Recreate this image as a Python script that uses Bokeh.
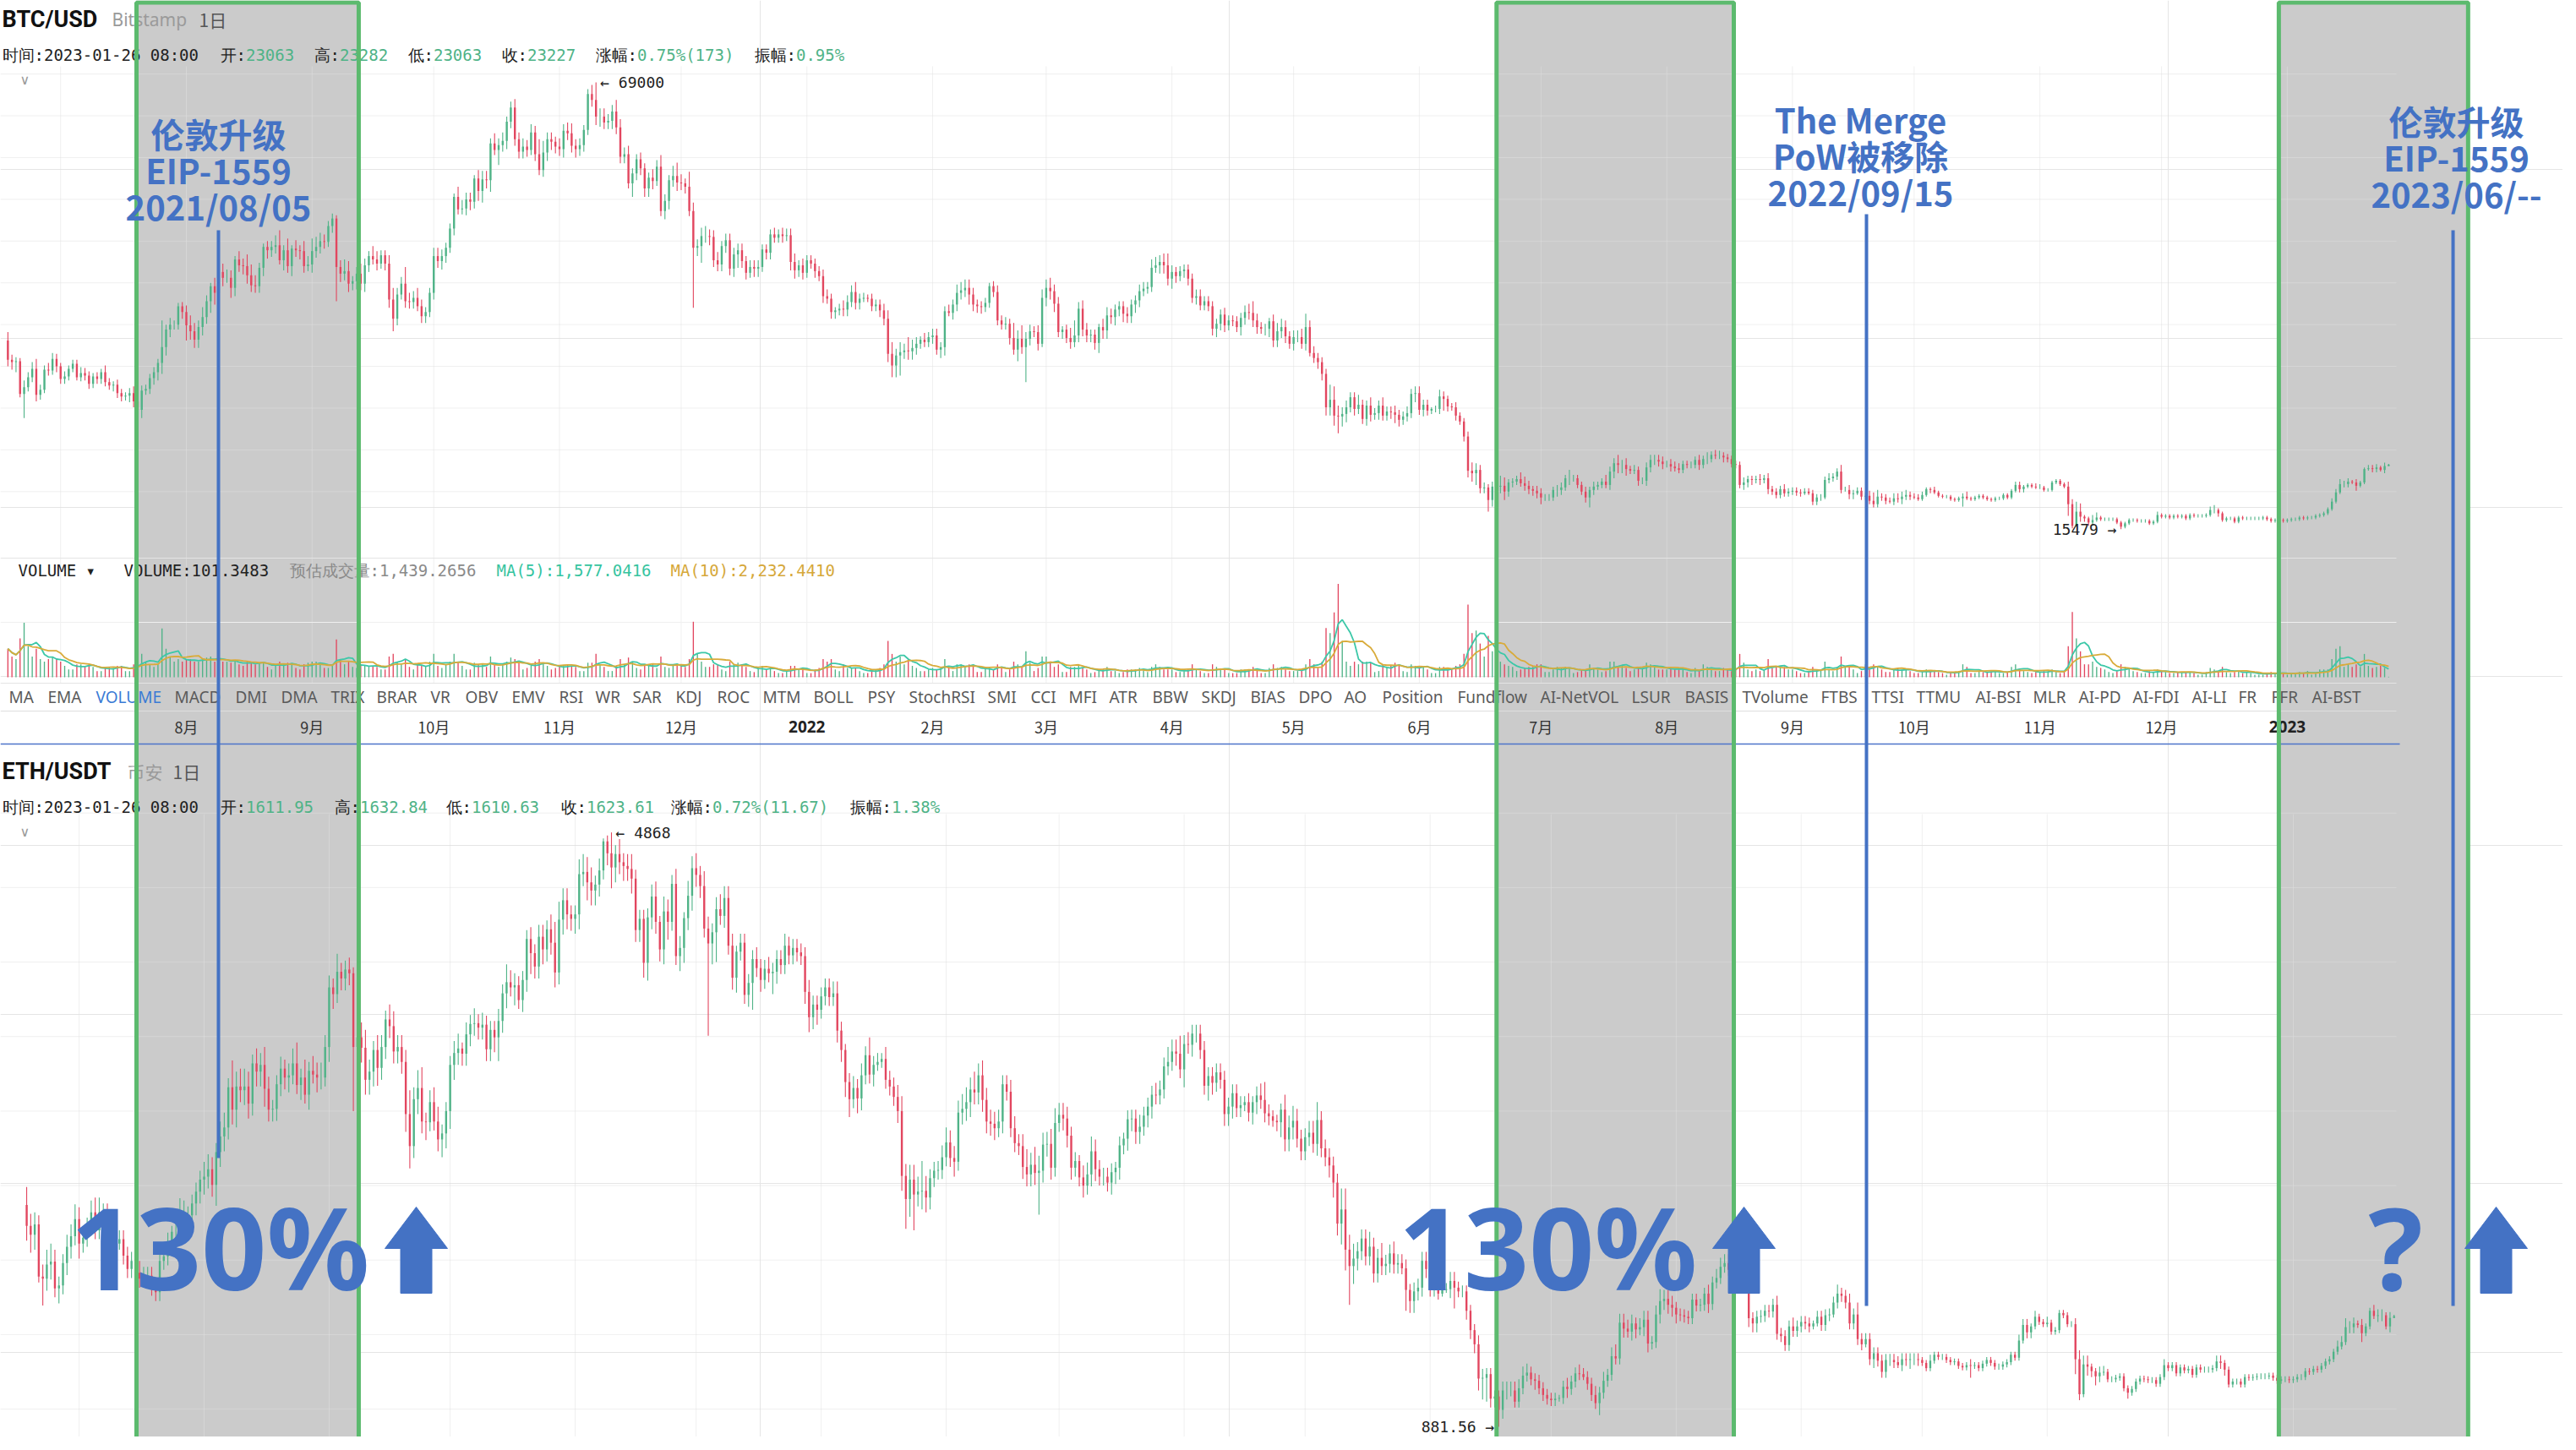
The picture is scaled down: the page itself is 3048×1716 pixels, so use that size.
import numpy as np
import pandas as pd
from bokeh.plotting import figure
from bokeh.models import Range1d, ColumnDataSource
from bokeh.embed import file_html
from bokeh.resources import INLINE
from bokeh.core.properties import value

# ------------------------------------------------------------------ data
start_date = "2021-06-18"   # first daily candle

btc_prev_close = 38.1       # BTC/USD close of 2021-06-17, in $k
btc_close = [  # $k, daily closes
    35.8,35.5,35.6,31.7,32.5,33.7,34.7,31.6,32.2,34.6,34.5,35.9,35.0,
    33.5,33.8,34.7,35.3,33.7,34.2,33.9,32.9,33.8,33.5,34.3,33.1,32.7,32.8,31.8,31.4,31.5,31.8,30.8,29.8,32.1,32.3,33.6,34.3,35.4,37.3,39.4,40.0,40.0,42.2,41.5,
    39.9,39.2,38.2,39.7,40.9,42.8,44.6,43.8,46.3,45.6,45.6,44.4,47.8,47.1,47.0,45.9,44.7,44.6,46.8,49.3,48.9,49.3,49.5,47.7,48.9,47.0,49.1,48.9,48.8,47.0,47.2,
    48.8,49.3,50.0,49.9,51.8,52.7,46.9,46.1,46.4,44.9,45.2,46.1,44.9,47.1,48.2,47.8,47.3,48.3,47.3,43.0,40.7,43.6,44.9,42.8,42.7,43.2,42.2,41.0,41.5,43.8,
    48.2,47.6,48.2,49.2,51.5,55.3,53.8,53.9,55.0,54.7,57.5,56.0,57.4,57.3,61.7,60.9,61.5,62.0,64.3,66.0,62.2,60.7,61.3,60.9,63.0,60.4,58.5,60.6,62.2,61.9,61.3,
    61.0,63.2,62.9,61.4,61.0,61.5,63.3,67.6,66.9,64.9,64.9,64.2,64.4,65.5,63.6,60.1,60.4,56.9,58.1,59.8,58.7,56.3,57.6,57.2,58.9,53.6,54.8,57.3,57.8,57.0,
    56.9,56.5,53.6,49.2,49.4,50.6,50.6,50.5,47.7,47.2,49.4,50.1,46.7,48.4,48.9,47.6,46.2,46.9,46.7,46.9,49.0,48.6,50.8,50.4,50.8,50.6,50.7,47.5,46.5,47.1,46.2,
    47.7,47.3,46.4,45.8,43.4,43.1,41.5,41.7,41.9,41.8,42.7,43.9,42.6,43.1,43.2,43.1,42.2,42.4,41.7,40.7,36.5,35.1,36.3,36.7,36.9,36.8,37.2,37.7,38.2,37.9,38.5,
    38.7,37.0,37.3,41.6,41.4,42.4,43.8,44.1,44.4,43.6,42.4,42.2,42.1,42.6,44.6,43.9,40.5,40.0,40.1,38.4,37.0,38.3,37.3,38.3,39.2,39.1,37.7,43.2,
    44.4,44.0,42.5,39.1,39.4,38.4,37.9,38.7,41.9,39.4,38.7,38.8,37.8,39.7,39.3,41.1,40.9,41.8,42.2,41.3,41.0,42.4,42.9,44.0,44.3,44.5,46.8,47.1,47.5,47.1,45.5,
    46.3,45.8,46.4,46.6,45.5,43.2,43.4,42.3,42.8,42.2,39.5,40.1,41.2,39.9,40.5,40.4,39.7,40.8,41.5,41.4,40.5,39.7,39.5,39.5,40.4,38.1,39.2,39.7,38.6,37.7,
    38.5,38.5,37.7,39.7,36.6,36.0,35.5,34.1,30.1,31.0,29.1,29.0,29.3,30.1,31.3,29.9,30.4,28.7,30.3,29.2,29.4,30.3,29.1,29.6,29.5,29.2,28.6,29.0,29.4,31.7,31.8,
    29.8,30.4,29.7,29.9,29.9,31.4,31.1,30.2,30.1,29.1,28.4,26.6,22.5,22.2,22.6,20.4,20.5,19.0,20.6,20.6,20.7,20.0,21.1,21.2,21.5,21.0,20.7,20.3,20.1,19.8,
    19.3,19.3,19.3,20.2,20.2,20.5,21.6,21.6,21.6,20.8,20.0,19.3,20.2,20.6,20.8,21.2,20.8,22.4,23.4,23.2,23.2,22.7,22.5,22.6,21.3,21.3,22.9,23.8,23.8,23.6,23.3,
    23.3,23.0,22.8,22.6,23.3,23.2,23.2,23.8,23.2,23.9,23.9,24.4,24.3,24.3,24.1,23.9,23.3,23.2,20.8,21.1,21.5,21.4,21.5,21.4,21.6,20.3,20.0,19.6,20.3,19.8,20.0,
    20.1,19.9,19.8,20.0,19.8,18.8,19.3,19.3,21.4,21.6,21.8,22.4,20.2,20.2,19.7,19.8,20.1,19.4,19.5,18.9,18.5,19.4,19.3,18.9,18.8,19.2,19.1,19.4,19.6,19.4,
    19.3,19.1,19.6,20.3,20.2,19.9,19.5,19.4,19.4,19.1,19.0,19.2,19.4,19.2,19.1,19.3,19.5,19.3,19.1,19.0,19.2,19.2,19.6,19.3,20.1,20.8,20.3,20.6,20.8,20.6,20.5,
    20.5,20.2,20.2,21.1,21.3,20.9,20.6,18.5,15.9,17.6,17.0,16.8,16.3,16.6,16.9,16.7,16.7,16.7,16.7,16.3,15.8,16.2,16.6,16.6,16.5,16.5,16.5,16.2,16.4,17.2,
    17.0,17.1,16.9,17.1,17.0,17.1,16.8,17.2,17.1,17.1,17.1,17.2,17.8,17.8,17.4,16.6,16.8,16.8,16.4,16.9,16.8,16.8,16.8,16.8,16.8,16.9,16.7,16.5,16.6,16.6,16.5,
    16.6,16.7,16.7,16.9,16.8,16.9,16.9,17.1,17.2,17.4,17.9,18.8,19.9,20.9,20.9,21.2,21.1,20.7,21.1,22.7,22.8,22.7,22.9,22.6,23.06,23.23,
]
btc_wick_up = [  # upper wick above the body, in $100
    10,6,5,4,8,6,8,12,6,5,8,7,6,
    4,6,4,5,5,7,6,5,4,5,4,8,5,4,6,5,4,6,8,6,6,5,5,6,5,32,6,8,5,4,5,
    8,12,10,8,12,7,4,10,6,10,10,9,4,10,8,14,13,12,6,4,7,7,12,18,6,14,4,10,6,12,10,
    15,12,10,8,6,6,4,8,14,12,6,8,12,8,6,12,10,6,6,10,14,8,8,20,10,8,12,8,6,6,
    10,10,8,6,6,4,12,10,8,8,4,10,10,10,6,12,8,10,6,7,10,8,10,8,10,8,18,14,8,8,6,
    10,8,10,12,8,8,6,6,11,21,10,10,8,8,14,10,8,10,6,6,8,6,6,10,8,14,8,6,12,16,
    10,6,18,10,8,10,12,8,8,10,6,8,8,8,8,8,6,8,8,8,6,6,6,8,6,8,8,8,10,6,8,
    6,6,6,6,8,8,6,4,6,10,8,8,12,6,6,4,6,6,6,8,10,14,8,12,8,16,10,8,4,8,6,
    8,8,6,6,8,6,10,10,10,10,8,6,6,6,4,6,8,6,8,6,18,10,16,8,8,6,8,10,
    10,12,8,8,4,6,12,18,8,10,8,6,6,4,10,10,8,6,6,6,8,6,6,8,8,6,10,10,8,10,14,
    8,6,6,6,6,6,8,8,6,6,6,6,6,8,6,6,6,6,8,10,14,8,6,6,4,8,10,10,8,6,
    8,8,10,16,8,8,6,6,6,18,16,12,8,8,6,6,12,6,6,10,6,6,10,6,6,8,6,6,8,6,8,
    8,6,6,2,4,8,6,4,4,6,4,4,6,10,8,6,6,4,6,12,12,10,4,4,4,8,8,6,4,6,
    6,4,4,4,6,6,4,10,4,4,4,6,4,6,4,4,8,6,6,10,6,8,4,6,4,4,6,6,6,6,6,
    4,6,6,6,4,4,4,4,6,4,8,4,6,6,4,4,4,4,4,6,4,4,4,6,4,6,4,4,4,6,4,
    4,4,4,4,4,4,4,4,4,6,4,4,8,4,6,4,4,4,4,6,10,8,4,4,4,6,6,6,6,4,
    4,4,4,2,2,4,2,2,2,2,2,2,4,6,2,2,2,2,2,2,2,2,2,2,2,4,4,2,2,2,4,
    4,2,2,2,2,2,2,6,6,12,10,2,2,6,6,2,2,2,2,2,2,2,2,2,2,2,2,2,2,4,
    2,2,2,2,2,2,2,2,2,2,2,2,4,6,2,2,2,2,2,2,2,2,2,2,2,2,2,2,2,2,2,
    2,2,2,2,2,2,2,2,2,2,2,4,4,6,4,4,2,4,2,2,4,4,4,2,4,1,
]
btc_wick_dn = [  # lower wick below the body, in $100
    8,9,12,4,29,5,6,8,6,4,6,5,7,
    6,6,5,4,4,5,6,6,5,6,6,5,5,7,6,6,5,8,7,5,10,5,6,8,10,13,10,9,6,6,8,
    18,10,10,10,10,8,14,14,6,10,6,12,10,8,10,10,8,8,8,10,10,8,8,5,12,8,12,8,10,8,6,
    10,8,8,8,6,8,41,10,8,10,8,10,8,10,8,6,8,6,8,10,15,8,6,8,8,8,6,8,8,6,
    8,8,10,8,6,8,6,6,8,10,8,12,14,10,14,6,18,8,10,8,8,8,8,8,6,8,6,8,10,10,8,
    8,10,8,8,10,8,8,6,8,10,12,8,8,10,8,8,8,6,16,8,8,10,10,10,6,6,10,10,8,10,
    8,8,6,72,10,20,8,10,8,8,8,8,8,10,16,8,8,6,10,10,6,8,8,6,6,8,6,10,10,8,8,
    6,6,8,6,8,6,8,8,6,8,8,6,8,8,4,4,6,6,8,8,10,14,14,24,8,10,10,8,6,6,6,
    8,6,10,10,4,8,8,8,8,12,8,8,8,6,6,6,6,6,6,8,6,14,8,42,8,6,8,4,
    10,10,10,6,8,6,8,6,8,8,8,8,8,12,10,10,8,10,8,10,8,8,10,8,6,6,6,6,10,10,8,
    12,8,6,8,8,6,8,6,6,6,8,10,8,8,6,6,6,10,8,8,8,8,6,8,10,8,8,8,8,6,
    8,6,6,8,4,6,8,8,10,10,12,20,12,10,6,8,6,6,8,8,6,8,6,6,8,10,8,6,6,6,10,
    6,8,6,4,4,6,14,6,4,6,4,6,8,10,14,6,6,14,8,8,8,10,6,6,4,4,6,6,6,6,
    8,4,4,4,8,6,4,8,4,4,4,6,12,6,4,4,4,6,8,10,10,8,4,4,6,4,6,6,6,6,6,
    4,6,4,4,4,4,4,4,6,4,6,4,4,4,6,4,4,4,4,6,6,6,4,6,4,6,4,4,4,4,4,
    4,4,4,2,2,4,4,4,2,4,4,4,4,2,6,6,2,4,4,4,4,4,4,4,2,4,4,6,4,4,
    2,2,2,2,4,2,2,2,2,2,2,2,10,2,2,2,2,2,2,2,2,2,2,2,2,2,4,4,2,2,2,
    2,2,2,2,2,2,2,14,3,1,6,4,4,4,2,2,2,2,2,2,3,2,2,2,2,2,2,2,2,2,
    2,2,2,2,2,2,2,2,2,2,2,2,2,4,4,2,2,2,2,2,2,2,2,2,2,2,2,2,2,2,2,
    2,2,2,2,2,2,2,2,2,2,2,2,2,2,4,4,2,6,2,2,2,4,4,2,4,0,
]
btc_volume = [  # Bitstamp daily volume, hundreds of BTC
    55,40,35,75,105,60,40,55,35,30,35,40,35,
    30,22,15,15,25,25,22,25,20,12,12,18,20,18,22,22,12,12,25,35,45,30,25,20,25,94,55,40,30,35,30,
    35,35,30,30,35,38,40,30,38,30,30,28,33,25,22,30,30,25,28,30,20,15,25,30,25,28,25,18,15,25,28,
    30,30,25,18,18,25,73,35,25,30,20,18,25,22,22,22,20,15,15,40,45,30,25,35,20,15,25,22,22,30,
    45,22,18,25,30,45,28,22,15,15,28,25,25,20,40,25,20,25,30,38,35,28,15,18,22,30,35,28,22,15,18,
    22,22,25,22,20,12,12,28,28,45,25,20,12,12,22,35,25,38,30,18,15,25,25,25,18,40,20,18,25,25,
    22,20,35,107,45,30,20,20,25,25,15,12,30,25,28,25,20,12,10,18,22,15,20,12,8,8,12,22,22,15,18,
    8,8,15,18,35,30,35,15,12,25,18,18,18,12,8,8,15,15,18,25,70,45,30,40,25,35,22,18,12,12,15,
    18,15,18,35,20,12,25,25,22,25,22,10,10,18,20,15,25,20,10,15,30,25,20,50,28,12,18,40,
    40,30,20,25,10,10,20,20,25,18,15,8,10,15,15,20,12,12,8,10,15,15,15,18,15,10,20,25,20,15,15,
    15,10,10,12,15,25,15,12,8,8,25,20,15,15,8,8,8,15,15,15,20,15,8,8,18,25,18,20,15,12,
    12,12,15,25,35,25,18,30,95,85,125,180,70,30,22,30,25,30,30,28,10,12,25,20,22,28,25,12,10,25,22,
    22,20,15,8,8,20,20,15,15,22,25,45,140,85,90,65,40,80,50,35,30,25,22,20,12,15,18,20,20,25,
    25,10,10,15,20,18,20,18,8,10,15,15,25,18,15,10,12,30,30,22,22,18,12,15,20,18,28,25,20,15,15,
    15,18,15,15,15,10,8,18,12,25,20,15,12,12,18,15,12,15,45,28,15,12,15,12,15,35,18,20,20,20,15,
    15,12,8,8,10,20,15,15,30,15,12,20,40,20,20,15,8,12,25,20,25,22,15,10,10,15,18,15,15,12,
    8,8,12,15,12,12,10,8,5,10,10,12,25,20,8,8,12,10,10,12,12,8,8,10,20,25,15,12,10,8,10,
    10,12,12,15,10,8,12,60,126,75,50,25,25,30,20,18,15,10,8,12,25,20,18,12,10,8,8,12,10,15,
    12,10,8,8,10,10,10,10,8,5,5,10,18,15,12,20,10,8,10,12,8,10,8,5,5,5,8,10,8,8,8,
    5,8,8,10,8,12,5,8,15,15,15,35,55,60,20,25,20,25,20,45,22,18,20,22,18,1,
]

eth_prev_close = 2370       # ETH/USDT close of 2021-06-17
eth_close = [  # USDT, daily closes
    2230,2170,2240,1890,1875,1970,1990,1810,1830,1980,2090,2160,2275,
    2110,2150,2225,2320,2200,2320,2320,2120,2150,2110,2140,2030,1940,1995,1915,1875,1895,1895,1820,1785,1995,2025,2125,2190,2190,2235,2300,2300,2380,2460,2540,
    2560,2610,2505,2725,2830,2890,3160,3010,3165,3140,3165,3050,3320,3265,3310,3150,3010,3015,3180,3285,3225,3240,3320,3175,3225,3110,3270,3245,3225,3225,3430,
    3830,3785,3935,3890,3950,3925,3430,3495,3425,3210,3265,3410,3290,3430,3615,3570,3400,3430,3330,2980,2765,3080,3155,2930,2925,3060,2930,2810,2850,3000,
    3310,3390,3420,3385,3515,3585,3590,3560,3580,3415,3545,3495,3605,3790,3865,3830,3845,3745,3880,4155,4060,3970,4170,4085,4220,4130,3930,4285,4415,4320,4290,
    4320,4590,4605,4535,4480,4520,4615,4810,4730,4635,4725,4670,4645,4625,4560,4215,4290,3995,4300,4440,4270,4085,4340,4270,4525,4040,4095,4295,4445,4630,
    4585,4510,4225,4125,4200,4355,4310,4430,4110,3895,4070,4130,3780,3860,4020,3960,3880,3955,3925,3935,4020,3980,4110,4045,4095,4065,4040,3800,3630,3715,3680,
    3770,3830,3765,3790,3540,3410,3195,3080,3155,3085,3240,3375,3245,3310,3330,3350,3210,3165,3095,3000,2565,2410,2540,2440,2460,2465,2420,2550,2600,2605,2690,
    2790,2685,2660,2990,3015,3060,3145,3125,3240,3075,2930,2915,2885,2930,3180,3130,2885,2785,2765,2625,2575,2640,2585,2600,2775,2780,2620,2920,
    2975,2950,2835,2620,2665,2555,2500,2575,2730,2610,2560,2560,2520,2590,2620,2770,2815,2945,2950,2860,2895,2970,3030,3110,3105,3145,3300,3330,3400,3385,3280,
    3450,3445,3520,3520,3410,3170,3235,3190,3260,3210,2980,3030,3120,3020,3040,3060,2990,3060,3105,3075,2985,2965,2935,2925,3010,2810,2890,2935,2815,2730,
    2825,2855,2780,2940,2750,2690,2635,2520,2245,2340,2070,1960,2010,2060,2145,2025,2090,1910,2015,1960,1975,2045,1970,1980,1945,1800,1725,1790,1815,1995,1940,
    1815,1835,1775,1800,1805,1860,1815,1790,1790,1660,1530,1435,1205,1210,1235,1070,1085,995,1125,1125,1125,1050,1140,1225,1245,1200,1190,1140,1095,1070,
    1060,1070,1075,1150,1135,1185,1240,1235,1215,1170,1095,1040,1110,1190,1230,1355,1340,1580,1540,1520,1575,1535,1550,1600,1440,1450,1635,1725,1740,1700,1680,
    1635,1630,1620,1610,1735,1695,1700,1775,1705,1850,1880,1955,1980,1935,1905,1875,1835,1850,1610,1575,1620,1625,1660,1655,1700,1505,1490,1430,1555,1525,1555,
    1585,1575,1555,1575,1620,1565,1630,1635,1715,1775,1760,1715,1575,1635,1470,1435,1470,1335,1375,1325,1250,1330,1330,1315,1295,1335,1330,1335,1335,1330,
    1310,1275,1325,1365,1350,1350,1330,1315,1320,1290,1280,1295,1290,1295,1275,1305,1330,1310,1285,1285,1300,1315,1365,1345,1460,1565,1515,1555,1620,1585,1570,
    1580,1520,1530,1645,1630,1570,1570,1335,1100,1300,1285,1255,1220,1245,1250,1200,1200,1210,1220,1140,1110,1135,1185,1205,1200,1195,1195,1170,1215,1295,
    1275,1295,1240,1280,1260,1270,1230,1280,1265,1265,1265,1275,1320,1310,1265,1165,1185,1185,1165,1215,1210,1215,1220,1220,1220,1225,1210,1190,1200,1200,1195,
    1200,1215,1215,1255,1250,1270,1265,1290,1320,1335,1385,1420,1450,1550,1550,1575,1565,1510,1555,1660,1625,1630,1630,1555,1611.95,1623.61,
]
eth_wick_up = [  # upper wick, in $10
    12,8,8,6,8,10,12,8,6,6,8,8,10,
    8,6,6,8,10,10,6,6,4,6,6,6,6,6,8,8,6,6,6,6,4,6,6,4,6,18,10,6,6,6,6,
    10,10,8,6,10,10,6,18,10,12,12,10,6,10,8,12,8,6,6,8,6,8,10,14,6,12,6,10,8,10,8,
    8,6,12,6,6,8,4,10,10,12,8,6,10,8,6,10,10,8,8,8,16,8,12,14,6,8,10,10,6,6,
    6,8,10,4,8,6,10,6,8,6,6,6,8,6,12,8,8,6,6,6,8,6,8,8,6,10,14,12,8,8,6,
    6,10,12,10,10,6,8,2,4,14,6,10,6,8,10,6,6,6,6,8,10,4,10,8,6,10,8,4,10,8,
    10,6,10,8,6,8,10,8,8,8,4,6,6,6,6,8,6,6,8,6,6,6,8,6,6,6,6,6,8,6,6,
    6,6,6,8,8,6,4,6,8,6,8,6,12,6,6,4,8,6,6,8,10,8,10,10,10,20,10,6,6,6,8,
    10,8,8,8,10,10,8,12,8,10,8,8,8,8,6,6,8,8,6,8,12,8,12,10,8,8,10,10,
    8,8,8,6,6,4,8,8,10,8,6,6,6,6,4,6,4,6,6,6,8,6,6,6,8,6,6,10,8,8,12,
    6,8,6,6,6,6,6,6,6,6,6,6,6,6,6,4,6,4,6,8,12,6,4,4,4,10,8,10,8,6,
    6,8,8,12,6,6,6,6,6,14,14,10,10,6,6,6,10,6,6,10,6,6,8,6,6,6,4,6,6,6,6,
    6,6,4,4,4,6,6,4,4,4,4,4,6,6,4,4,4,4,6,6,6,6,6,6,6,4,4,4,4,4,
    4,4,2,4,6,4,4,6,4,4,4,6,4,6,4,6,8,6,6,6,6,4,6,6,6,4,6,8,6,6,6,
    4,4,4,4,4,4,4,4,6,4,6,6,6,6,6,4,4,4,4,4,4,4,4,4,4,6,4,4,4,6,4,
    4,4,4,2,4,4,4,4,4,6,4,4,6,4,8,4,4,4,4,4,4,4,4,4,4,4,4,4,4,4,
    2,2,4,2,2,2,2,2,2,2,2,2,4,2,2,2,2,2,2,2,2,2,2,2,4,4,4,2,4,2,2,
    4,2,2,2,2,2,2,4,6,6,6,2,2,4,4,2,2,2,2,2,2,2,2,2,2,2,2,2,2,4,
    2,2,2,2,2,2,2,2,2,2,2,2,4,4,2,2,2,2,2,2,2,2,2,2,2,2,2,2,2,2,2,
    2,2,2,2,2,2,2,2,2,2,2,4,4,6,4,4,2,4,2,2,4,4,4,2,4,0.9,
]
eth_wick_dn = [  # lower wick, in $10
    10,12,10,4,18,8,10,6,10,6,8,8,6,
    10,6,6,6,6,6,8,8,6,6,4,6,6,6,6,6,6,4,6,6,6,6,6,10,10,8,8,8,6,8,8,
    10,8,8,14,10,10,8,10,12,8,10,10,8,10,10,12,8,8,8,8,8,10,6,6,10,6,10,6,10,8,6,
    10,10,6,8,8,8,43,12,10,10,10,10,12,8,8,8,8,8,8,12,15,8,10,8,12,6,6,8,12,10,
    12,10,8,8,8,8,8,8,8,8,8,10,16,8,10,6,12,6,8,8,14,8,8,10,8,8,10,8,10,10,8,
    10,10,8,12,10,10,8,6,8,14,10,8,10,8,10,8,8,10,12,8,8,8,10,12,6,6,10,10,8,10,
    8,8,6,62,14,20,6,8,6,8,10,6,6,8,18,6,8,6,6,14,8,6,6,6,6,6,6,8,10,8,10,
    6,6,6,6,8,8,10,12,6,10,8,6,6,8,4,4,6,6,6,8,10,20,12,24,8,12,10,8,6,6,6,
    6,6,10,6,8,8,10,8,8,8,8,8,8,6,8,6,6,6,6,8,8,8,8,28,8,8,8,6,
    6,8,8,8,6,6,8,6,8,8,6,6,6,8,8,8,6,8,8,8,8,6,8,8,6,6,6,6,6,8,6,
    12,6,8,6,6,6,10,8,6,6,8,8,8,6,6,4,6,8,8,6,6,6,4,6,10,8,8,8,6,6,
    6,6,6,8,6,6,8,10,8,14,14,26,12,8,6,6,6,6,6,6,6,6,6,6,4,14,8,8,6,6,6,
    6,6,4,2,2,6,14,4,4,6,6,6,8,14,16,6,6,11.3,6,6,4,4,4,4,4,4,6,4,4,4,
    4,4,2,4,6,4,4,4,2,4,4,4,8,4,4,4,4,4,6,4,6,6,4,6,6,4,4,6,6,6,6,
    6,4,4,4,4,4,4,4,6,4,4,4,4,4,4,4,4,4,6,6,6,4,4,4,4,4,4,4,4,4,4,
    4,4,4,2,2,4,4,4,2,4,4,4,4,4,4,4,2,4,6,4,4,4,4,4,2,4,4,6,4,4,
    2,2,2,2,2,2,2,2,2,2,2,2,8,2,2,2,2,2,2,2,2,2,2,2,2,2,4,4,2,2,2,
    2,2,2,2,2,2,2,10,4,2,6,4,6,4,2,2,2,2,2,2,4,2,2,2,2,2,2,2,2,2,
    2,2,2,2,2,2,2,2,2,2,2,2,2,4,4,2,2,2,2,2,2,2,2,2,2,2,2,2,2,2,2,
    2,2,2,2,2,2,2,2,2,2,2,2,2,2,4,4,2,6,2,2,2,4,4,2,4,0.1,
]

month_starts = ["2021-08-01","2021-09-01","2021-10-01","2021-11-01","2021-12-01","2022-01-01",
                "2022-02-01","2022-03-01","2022-04-01","2022-05-01","2022-06-01","2022-07-01",
                "2022-08-01","2022-09-01","2022-10-01","2022-11-01","2022-12-01","2023-01-01"]
month_labels = ["8月","9月","10月","11月","12月","2022","2月","3月","4月","5月","6月","7月",
                "8月","9月","10月","11月","12月","2023"]

indicator_names = ["MA","EMA","VOLUME","MACD","DMI","DMA","TRIX","BRAR","VR","OBV","EMV","RSI","WR",
                   "SAR","KDJ","ROC","MTM","BOLL","PSY","StochRSI","SMI","CCI","MFI","ATR","BBW","SKDJ",
                   "BIAS","DPO","AO","Position","Fundflow","AI-NetVOL","LSUR","BASIS","TVolume","FTBS",
                   "TTSI","TTMU","AI-BSI","MLR","AI-PD","AI-FDI","AI-LI","FR","FFR","AI-BST"]

# ------------------------------------------------------------------ layout
W, H = 3032, 1700
DAY = 86400000.0
UP, DN = "#4fb387", "#e2465f"
BLUE = "#4472c4"
GREEN = "#5cba6e"
MONO = value("DejaVu Sans Mono")

n = len(btc_close)
for nm, arr in [("btc_wick_up", btc_wick_up), ("btc_wick_dn", btc_wick_dn), ("btc_volume", btc_volume),
                ("eth_close", eth_close), ("eth_wick_up", eth_wick_up), ("eth_wick_dn", eth_wick_dn)]:
    assert len(arr) == n, (nm, len(arr), n)

def ms(s):
    return pd.Timestamp(s).value / 1e6

dates = pd.date_range(start_date, periods=n, freq="D")
xs = dates.values.astype("datetime64[ms]").astype(np.int64).astype(float)

def candles(close, prev, up, dn, unit):
    c = np.asarray(close, float)
    o = np.concatenate([[prev], c[:-1]])
    hi = np.maximum(o, c) + np.asarray(up, float) * unit
    lo = np.minimum(o, c) - np.asarray(dn, float) * unit
    col = np.where(c >= o, UP, DN)
    return dict(x=xs, o=o, h=hi, l=lo, c=c, top=np.maximum(o, c), bot=np.minimum(o, c), color=col)

btc = candles(btc_close, btc_prev_close, btc_wick_up, btc_wick_dn, 0.1)
eth = candles(eth_close, eth_prev_close, eth_wick_up, eth_wick_dn, 10.0)
vol = pd.Series(btc_volume, dtype=float)
btc_src = ColumnDataSource(dict(btc, v=vol.values,
                                ma5=vol.rolling(5, min_periods=1).mean().values,
                                ma10=vol.rolling(10, min_periods=1).mean().values))
eth_src = ColumnDataSource(eth)

# x scales: BTC chart has 1 Aug 2021 at 220 px, 4.799 px/day; ETH chart Nov 10 2021 at 723 px, 4.772 px/day
bx0 = ms("2021-08-01") - 220 / 4.799 * DAY
bx1 = bx0 + W / 4.799 * DAY
ex0 = ms("2021-11-10") - 723 / 4.772 * DAY
ex1 = ex0 + W / 4.772 * DAY

def yrange(va, pa, vb, pb):
    s = (va - vb) / (pb - pa)
    return Range1d(start=va - (H - pa) * s, end=va + pa * s)

p = figure(width=W, height=H, x_range=Range1d(bx0, bx1), y_range=Range1d(H, 0),
           output_backend="svg", toolbar_location=None, x_axis_location=None,
           y_axis_location=None, min_border=0, outline_line_color=None,
           background_fill_color="white", border_fill_color="white")
p.extra_x_ranges = {"eth": Range1d(ex0, ex1), "px": Range1d(0, W)}
p.extra_y_ranges = {"btc": yrange(69.0, 97, 15.479, 626),
                    "eth": yrange(4868, 985, 881.56, 1688),
                    "vol": yrange(100, 801 - 61.4, 0, 801)}

# highlighted periods (grey fill)
box_l = [ms("2021-07-19 17:00"), ms("2022-06-20 01:00"), ms("2022-12-29 22:00")]
box_r = [ms("2021-09-12 12:00"), ms("2022-08-17 13:00"), ms("2023-02-14 14:00")]
p.quad(left=box_l, right=box_r, top=[0] * 3, bottom=[H] * 3, fill_color="#cbcbcb", line_color=None)

# grid
CH_R = 2835
GRID = dict(line_color="#e2e2e2", line_alpha=0.5, line_width=1)
gv = list(range(20, 71, 5))
p.segment(x0=[0] * len(gv), x1=[CH_R] * len(gv), y0=gv, y1=gv, x_range_name="px", y_range_name="btc", **GRID)
ev = list(range(1000, 5001, 500))
p.segment(x0=[0] * len(ev), x1=[CH_R] * len(ev), y0=ev, y1=ev, x_range_name="px", y_range_name="eth", **GRID)
grid_months = [ms("2021-07-01")] + [ms(d) for d in month_starts]
p.segment(x0=grid_months, x1=grid_months, y0=[78] * len(grid_months), y1=[808] * len(grid_months), **GRID)
p.segment(x0=grid_months, x1=grid_months, y0=[963] * len(grid_months), y1=[H] * len(grid_months),
          x_range_name="eth", **GRID)

# panel separators
p.segment(x0=[0, 0, 0, 0], x1=[CH_R] * 4, y0=[660, 736, 808, 841], y1=[660, 736, 808, 841],
          x_range_name="px", line_color=["#e4e4e4", "#f0f0f0", "#e4e4e4", "#dedede"], line_width=1.2)
p.segment(x0=[0], x1=[CH_R + 4], y0=[880], y1=[880], x_range_name="px", line_color="#4d74c9", line_width=1.6)

# BTC candles
p.segment(x0="x", x1="x", y0="l", y1="h", line_color="color", line_width=1.1, source=btc_src, y_range_name="btc")
p.vbar(x="x", width=0.5 * DAY, top="top", bottom="bot", fill_color="color", line_color=None,
       source=btc_src, y_range_name="btc")
# volume
p.vbar(x="x", width=0.28 * DAY, top="v", bottom=0, fill_color="color", line_color=None,
       source=btc_src, y_range_name="vol")
p.line(x="x", y="ma5", line_color="#3cc8a8", line_width=1.8, source=btc_src, y_range_name="vol")
p.line(x="x", y="ma10", line_color="#d9ab3a", line_width=1.8, source=btc_src, y_range_name="vol")
# ETH candles
p.segment(x0="x", x1="x", y0="l", y1="h", line_color="color", line_width=1.1, source=eth_src,
          x_range_name="eth", y_range_name="eth")
p.vbar(x="x", width=0.5 * DAY, top="top", bottom="bot", fill_color="color", line_color=None,
       source=eth_src, x_range_name="eth", y_range_name="eth")

# extreme price labels
bi, bj = int(np.argmax(btc["h"])), int(np.argmin(btc["l"]))
ei, ej = int(np.argmax(eth["h"])), int(np.argmin(eth["l"]))
p.text(x=[xs[bi]], y=[btc["h"][bi]], text=["← 69000"], y_range_name="btc", x_offset=5,
       text_baseline="middle", text_font=MONO, text_font_size="18px", text_color="#222222")
p.text(x=[xs[bj]], y=[btc["l"][bj]], text=["15479 →"], y_range_name="btc", x_offset=-5,
       text_align="right", text_baseline="middle", text_font=MONO, text_font_size="18px", text_color="#222222")
p.text(x=[xs[ei]], y=[eth["h"][ei]], text=["← 4868"], x_range_name="eth", y_range_name="eth", x_offset=5,
       text_baseline="middle", text_font=MONO, text_font_size="18px", text_color="#222222")
p.text(x=[xs[ej]], y=[eth["l"][ej]], text=["881.56 →"], x_range_name="eth", y_range_name="eth", x_offset=-5,
       text_align="right", text_baseline="middle", text_font=MONO, text_font_size="18px", text_color="#222222")

# ------------------------------------------------------------------ texts
def txt(x, y, s, color="#222222", size="19px", font=MONO, style="normal", align="left"):
    p.text(x=[x], y=[y], text=[s], x_range_name="px", text_align=align, text_baseline="middle",
           text_font=font, text_font_size=size, text_font_style=style, text_color=color)

def cw(s, fs=19):
    return sum(fs if ord(ch) > 0x2E7F else 0.602 * fs for ch in s)

VGREEN = "#4fb387"
# headers
txt(2, 22, "BTC/USD", "#111111", "27px", value("Roboto"), "bold")
txt(132, 22, "Bitstamp", "#9a9a9a", "21px", value("Noto Sans"))
txt(235, 22, "1日", "#555555", "21px", value("Noto Sans CJK SC"))
txt(2, 912, "ETH/USDT", "#111111", "27px", value("Roboto"), "bold")
txt(150, 912, "币安", "#9a9a9a", "21px", value("Noto Sans CJK SC"))
txt(204, 912, "1日", "#555555", "21px", value("Noto Sans CJK SC"))
txt(23, 94, "∨", "#9a9a9a", "16px", value("DejaVu Sans"))
txt(23, 984, "∨", "#9a9a9a", "16px", value("DejaVu Sans"))

def info_line(y, items):
    for xpos, lab, val in items:
        txt(xpos, y, lab, "#222222")
        txt(xpos + cw(lab), y, val, VGREEN)

txt(2, 64, "时间:2023-01-26 08:00", "#222222")
info_line(64, [(260, "开:", "23063"), (371, "高:", "23282"), (482, "低:", "23063"),
               (593, "收:", "23227"), (704, "涨幅:", "0.75%(173)"), (892, "振幅:", "0.95%")])
txt(2, 954, "时间:2023-01-26 08:00", "#222222")
info_line(954, [(260, "开:", "1611.95"), (395, "高:", "1632.84"), (527, "低:", "1610.63"),
                (663, "收:", "1623.61"), (793, "涨幅:", "0.72%(11.67)"), (1005, "振幅:", "1.38%")])

# volume legend row
txt(21, 674, "VOLUME ▾", "#222222")
txt(146, 674, "VOLUME:101.3483", "#222222")
txt(342, 674, "预估成交量:1,439.2656", "#8a8a8a")
txt(587, 674, "MA(5):1,577.0416", "#35c4a0")
txt(793, 674, "MA(10):2,232.4410", "#d6a83a")

# indicator tab row
ind_x = [10, 56, 113, 206, 278, 332, 391, 445, 509, 550, 605, 661, 704, 748, 799, 848, 902, 962, 1026,
         1075, 1168, 1219, 1264, 1312, 1363, 1421, 1479, 1536, 1590, 1635, 1724, 1822, 1930, 1993, 2061,
         2154, 2214, 2267, 2337, 2405, 2459, 2523, 2593, 2648, 2687, 2735]
ind_col = ["#3a7bd5" if nm == "VOLUME" else "#5a5a5a" for nm in indicator_names]
p.text(x=ind_x, y=[824] * len(ind_x), text=indicator_names, x_range_name="px", text_baseline="middle",
       text_font=value("Noto Sans"), text_font_size="19px", text_color=ind_col)

# month axis
mx = [ms(d) for d in month_starts]
bold = [lab.isdigit() for lab in month_labels]
p.text(x=[x for x, b in zip(mx, bold) if not b], y=[859] * (len(mx) - sum(bold)),
       text=[l for l, b in zip(month_labels, bold) if not b], text_align="center", text_baseline="middle",
       text_font=value("Noto Sans CJK SC"), text_font_size="18px", text_color="#333333")
p.text(x=[x for x, b in zip(mx, bold) if b], y=[859] * sum(bold),
       text=[l for l, b in zip(month_labels, bold) if b], text_align="center", text_baseline="middle",
       text_font=value("Noto Sans"), text_font_size="19px", text_font_style="bold", text_color="#222222")

# green borders of highlighted periods
p.quad(left=box_l, right=box_r, top=[2.5] * 3, bottom=[H + 20] * 3, fill_alpha=0,
       line_color=GREEN, line_width=5)

# blue event lines
ev_x = [ms("2021-08-08 22:00"), ms("2022-09-19 06:00"), ms("2023-02-10 21:00")]
p.segment(x0=ev_x, x1=ev_x, y0=[272, 253, 272], y1=[1370, 1545, 1545], line_color=BLUE, line_width=4)

# annotation blocks
CJK = value("Noto Sans CJK SC")
for cx, ys, lines in [(258, [157, 200, 243], ["伦敦升级", "EIP-1559", "2021/08/05"]),
                      (2201, [140, 183, 226], ["The Merge", "PoW被移除", "2022/09/15"]),
                      (2906, [142, 185, 228], ["伦敦升级", "EIP-1559", "2023/06/--"])]:
    for yy, s in zip(ys, lines):
        txt(cx, yy, s, BLUE, "40px", CJK, "bold", "center")

# big percentages and arrows
for cx, s in [(260, "130%"), (1831, "130%"), (2834, "?")]:
    txt(cx, 1474, s, BLUE, "135px", value("Noto Sans"), "bold", "center")
arr_xs, arr_ys = [], []
for cx in [492, 2063, 2953]:
    arr_xs.append([cx, cx + 37, cx + 18.5, cx + 18.5, cx - 18.5, cx - 18.5, cx - 37])
    arr_ys.append([1428, 1477, 1477, 1530, 1530, 1477, 1477])
p.patches(xs=arr_xs, ys=arr_ys, x_range_name="px", fill_color=BLUE, line_color=BLUE, line_width=1)

open("out.html", "w").write(file_html(p, INLINE))
